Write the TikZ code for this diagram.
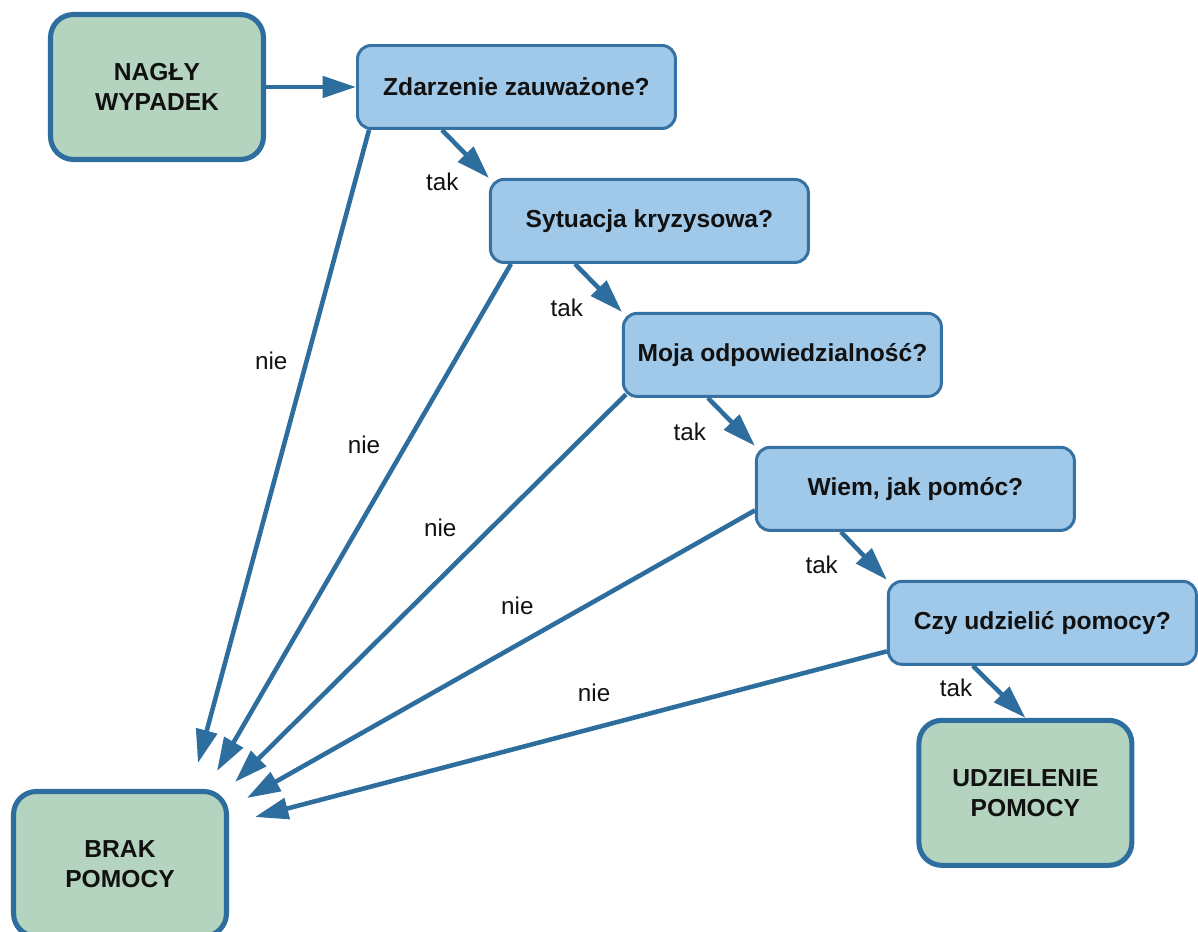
\documentclass[tikz,border=0pt]{standalone}
\usepackage{fontspec}
\setmainfont{Liberation Sans}
\usetikzlibrary{shapes.geometric, arrows.meta, positioning}
\definecolor{msky}{HTML}{A0C8E8}
\definecolor{msage}{HTML}{B5D4BF}
\definecolor{mdeep}{HTML}{2E6E9E}
\definecolor{medge}{HTML}{3572A3}
\definecolor{mink}{HTML}{111111}
\tikzstyle{outcome} = [rectangle, rounded corners=0.46cm, minimum width=4.26cm, minimum height=2.9cm, align=center, text=mink, fill=msage, draw=mdeep, line width=2.9pt, font=\fontsize{14}{17}\selectfont\bfseries]
\tikzstyle{question} = [rectangle, rounded corners=0.27cm, minimum width=6.36cm, minimum height=1.66cm, text=mink, fill=msky, draw=medge, line width=1.7pt, font=\fontsize{14}{17}\selectfont\bfseries]
\tikzstyle{flow} = [line width=2.6pt, draw=mdeep, -{Triangle[length=19pt, width=12pt]}]
\tikzstyle{answer} = [font=\fontsize{13.8}{17}\selectfont, text=mink, inner sep=2pt, outer sep=5.5pt, auto, swap]

\begin{document}
\begin{tikzpicture}[x=0.02cm, y=-0.02cm, node distance=1cm]
  \useasboundingbox (0,0) rectangle (1198,932);
  \node (accident) [outcome] at (157,87) {NAGŁY\\WYPADEK};
  \node (noticed) [question, right = 1.8cm of accident] {Zdarzenie zauważone?};
  \node (crisis) [question, below = 0.96cm of noticed, xshift=2.66cm] {Sytuacja kryzysowa?};
  \node (duty) [question, below = 0.96cm of crisis, xshift=2.66cm] {Moja odpowiedzialność?};
  \node (skill) [question, below = 0.96cm of duty, xshift=2.66cm] {Wiem, jak pomóc?};
  \node (decide) [question, minimum width=6.16cm, below = 0.96cm of skill, xshift=2.54cm] {Czy udzielić pomocy?};
  \node (help) [outcome, below = 1.04cm of decide, xshift=-0.34cm] {UDZIELENIE\\POMOCY};
  \node (nohelp) [outcome, below = 12.54cm of accident, xshift=-0.74cm] {BRAK\\POMOCY};
  % loose ends of the "nie" arrows, fanned round the corner of nohelp
  \coordinate (in1) at (198,763);
  \coordinate (in2) at (217,771);
  \coordinate (in3) at (235,782);
  \coordinate (in4) at (247,798);
  \coordinate (in5) at (255,817);
  \draw [flow] (accident) -- (noticed);
  \draw [flow] ([xshift=1.72cm]noticed.south west) -- node[answer, pos=0.63] (t1) {tak} (crisis.north west);
  \draw [flow] ([xshift=1.72cm]crisis.south west) -- node[answer, pos=0.45] (t2) {tak} (duty.north west);
  \draw [flow] ([xshift=1.72cm]duty.south west) -- node[answer, pos=0.24] (t3) {tak} (skill.north west);
  \draw [flow] ([xshift=1.72cm]skill.south west) -- node[answer, pos=0.22] (t4) {tak} (decide.north west);
  \draw [flow] ([xshift=1.72cm]decide.south west) -- node[answer, pos=0.12, outer sep=2pt] (t5) {tak} (help.north);
  \draw [flow] ([xshift=0.26cm]noticed.south west) -- node[answer, pos=0.4] (n1) {nie} (in1);
  \draw [flow] ([xshift=0.44cm]crisis.south west) -- node[answer, pos=0.4] (n2) {nie} (in2);
  \draw [flow] ([shift={(0.08cm,0.07cm)}]duty.south west) -- node[answer, pos=0.4] (n3) {nie} (in3);
  \draw [flow] ([yshift=0.43cm]skill.south west) -- node[answer, pos=0.41] (n4) {nie} (in4);
  \draw [flow] ([yshift=0.29cm]decide.south west) -- node[answer, pos=0.41, outer sep=8pt] (n5) {nie} (in5);
\end{tikzpicture}
\end{document}
